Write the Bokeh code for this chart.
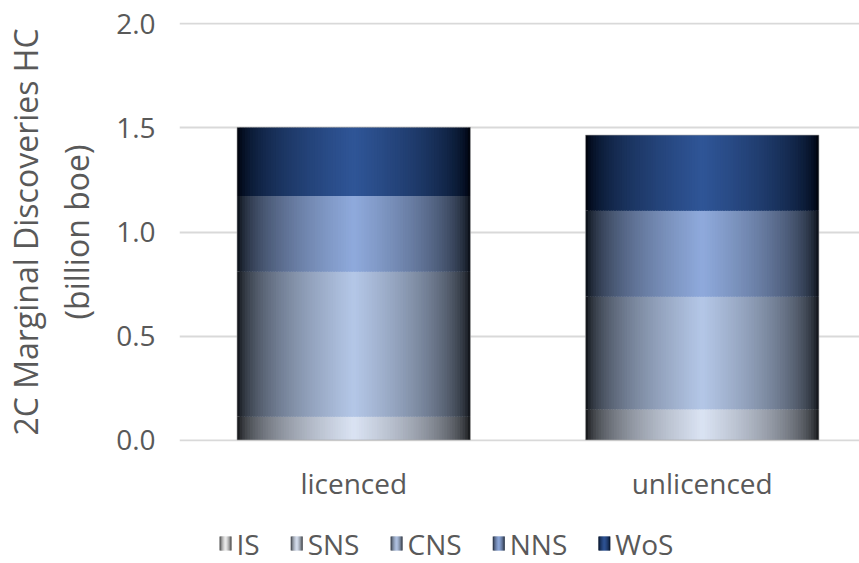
import numpy as np
from bokeh.plotting import figure
from bokeh.models import Range1d, FixedTicker, ColumnDataSource
from bokeh.layouts import column
from bokeh.core.properties import value
from bokeh.embed import file_html
from bokeh.resources import INLINE

# ---- data ----
categories = ["licenced", "unlicenced"]
series = ["IS", "SNS", "CNS", "NNS", "WoS"]
IS = [0.0, 0.0]
SNS = [0.112, 0.148]
CNS = [0.697, 0.541]
NNS = [0.364, 0.413]
WoS = [0.330, 0.364]
series_values = [IS, SNS, CNS, NNS, WoS]
series_colors = ["#f2f2f2", "#dae3f3", "#b4c7e7", "#8faadc", "#2f5597"]
y_ticks = [0.0, 0.5, 1.0, 1.5, 2.0]
y_tick_labels = ["0.0", "0.5", "1.0", "1.5", "2.0"]
y_label = "2C Marginal Discoveries HC\n(billion boe)"

FONT = "Open Sans"
TXT = "#595959"
BAR_W = 0.67
N_SLICES = 90
FRAME_LEFT, FRAME_W = 176, 683


def to_lin(c):
    c = c / 255.0
    return np.where(c <= 0.04045, c / 12.92, ((c + 0.055) / 1.055) ** 2.4)


def to_srgb(l):
    l = np.clip(l, 0, 1)
    c = np.where(l <= 0.0031308, l * 12.92, 1.055 * l ** (1 / 2.4) - 0.055)
    return np.round(c * 255).astype(int)


def shade(hexcol, t):
    rgb = np.array([int(hexcol[i:i + 2], 16) for i in (1, 3, 5)], dtype=float)
    lin = to_lin(rgb) * (0.004 + 0.996 * t)
    r, g, b = to_srgb(lin)
    return "#%02x%02x%02x" % (r, g, b)


def gradient_slices(left0, width, bottom, top, col, n):
    """Vertical slices of one bar segment, dark at both edges, colour at centre."""
    w = width / n
    out = []
    for k in range(n):
        u = (k + 0.5) / n
        t = 1 - abs(u - 0.5) * 2
        l = left0 + k * w
        r = min(l + 1.8 * w, left0 + width)
        out.append((l, r, bottom, top, shade(col, t)))
    return out


# ---------------- main chart ----------------
p = figure(frame_width=FRAME_W, frame_height=419, output_backend="svg", toolbar_location=None,
           x_range=Range1d(0, 1.96), y_range=Range1d(-0.0072, 2.0072),
           min_border_left=FRAME_LEFT, min_border_right=0, min_border_top=22,
           min_border_bottom=78)
p.outline_line_color = None
p.background_fill_color = "white"
p.border_fill_color = "white"

xc = [i + 0.5 for i in range(len(categories))]
bottoms = [0.0] * len(categories)
for s, vals, col in zip(series, series_values, series_colors):
    rows = []
    for ci, x0 in enumerate(xc):
        rows += gradient_slices(x0 - BAR_W / 2, BAR_W, bottoms[ci],
                                bottoms[ci] + vals[ci], col, N_SLICES)
        bottoms[ci] += vals[ci]
    L, R, B, T, C = (list(a) for a in zip(*rows))
    src = ColumnDataSource(dict(left=L, right=R, bottom=B, top=T, color=C))
    p.quad(left="left", right="right", bottom="bottom", top="top", source=src,
           fill_color="color", line_color=None)

# thin bar outlines
p.quad(left=[x - BAR_W / 2 for x in xc], right=[x + BAR_W / 2 for x in xc],
       bottom=[0] * len(xc), top=bottoms, fill_color=None,
       line_color="#a6a6a6", line_width=1, line_alpha=0.6)

p.xgrid.grid_line_color = None
p.ygrid.grid_line_color = "#d9d9d9"
p.ygrid.grid_line_width = 2
p.yaxis.ticker = FixedTicker(ticks=y_ticks)
p.yaxis.major_label_overrides = {t: l for t, l in zip(y_ticks, y_tick_labels)}
p.xaxis.ticker = FixedTicker(ticks=xc)
p.xaxis.major_label_overrides = {x: c for x, c in zip(xc, categories)}
for ax in (p.xaxis, p.yaxis):
    ax.axis_line_color = None
    ax.major_tick_line_color = None
    ax.minor_tick_line_color = None
    ax.major_tick_out = 0
    ax.major_tick_in = 0
    ax.major_label_text_font = FONT
    ax.major_label_text_font_size = "28px"
    ax.major_label_text_color = TXT
p.yaxis.major_label_standoff = 24
p.xaxis.major_label_standoff = 22
p.yaxis.axis_label = y_label
p.yaxis.axis_label_text_font = FONT
p.yaxis.axis_label_text_font_size = "32px"
p.yaxis.axis_label_text_font_style = "normal"
p.yaxis.axis_label_text_color = TXT
p.yaxis.axis_label_standoff = 15

# ---------------- legend strip (gradient swatches like the original) ----------------
LEG_H = 44
leg = figure(frame_width=FRAME_W, frame_height=LEG_H, output_backend="svg",
             toolbar_location=None,
             x_range=Range1d(FRAME_LEFT, FRAME_LEFT + FRAME_W), y_range=Range1d(0, LEG_H),
             x_axis_type=None, y_axis_type=None, min_border_left=FRAME_LEFT,
             min_border_right=0, min_border_top=0, min_border_bottom=0)
leg.outline_line_color = None
leg.xgrid.grid_line_color = None
leg.ygrid.grid_line_color = None

CHAR_W = {"I": 0.279, "S": 0.549, "N": 0.754, "C": 0.632, "W": 0.931, "o": 0.602}
FS = 28
SW_W, SW_H, STANDOFF, SPACING = 12, 14, 5, 31
x = 216
yc = 20
sw_rows, tx, tl = [], [], []
for s, col in zip(series, series_colors):
    sw_rows += gradient_slices(x, SW_W, yc - SW_H / 2, yc + SW_H / 2, col, 12)
    tx.append(x + SW_W + STANDOFF)
    tl.append(s)
    x += SW_W + STANDOFF + sum(CHAR_W.get(ch, 0.6) for ch in s) * FS + SPACING
L, R, B, T, C = (list(a) for a in zip(*sw_rows))
leg.quad(left=L, right=R, bottom=B, top=T, fill_color=C, line_color=None)
leg.text(x=tx, y=[yc] * len(tx), text=tl, text_font=value(FONT),
         text_font_size="28px", text_color=TXT, text_baseline="middle",
         text_align="left")

layout = column(p, leg, spacing=0)
open("out.html", "w").write(file_html(layout, INLINE))
